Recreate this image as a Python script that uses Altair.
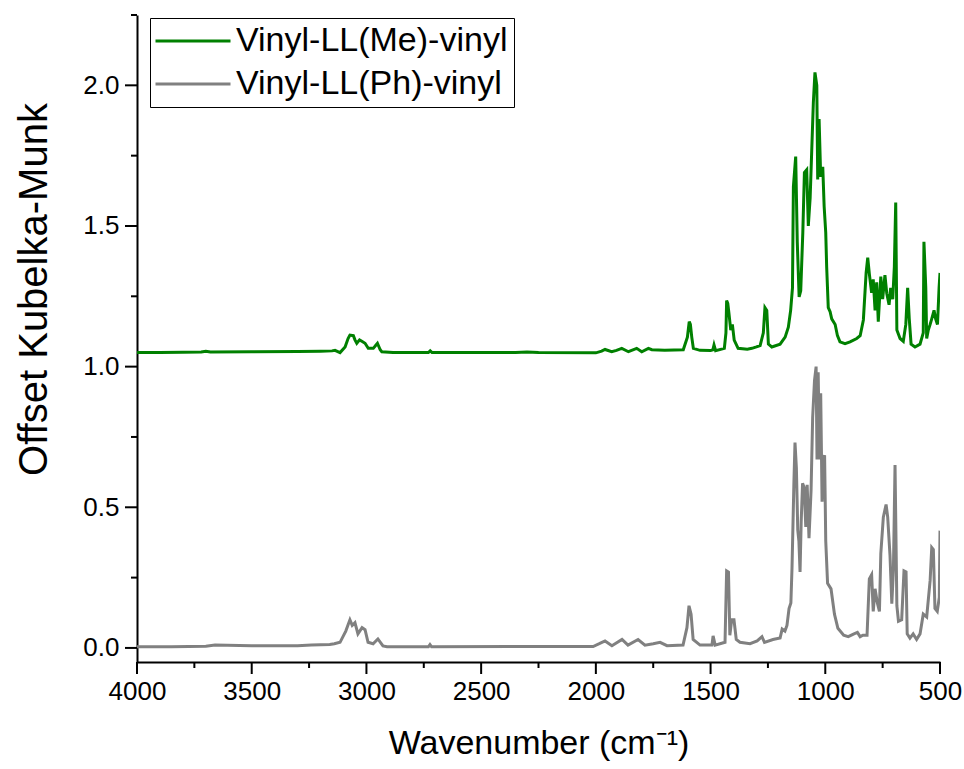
import altair as alt
import pandas as pd

series_names = ["Vinyl-LL(Me)-vinyl", "Vinyl-LL(Ph)-vinyl"]
series_colors = ["#008000", "#808080"]

me_wavenumber = [4000, 3900, 3800, 3720, 3700, 3680, 3500, 3300, 3200, 3150, 3137, 3115, 3093, 3080, 3072,
                 3057, 3050, 3042, 3030, 3020, 3006, 2992, 2970, 2960, 2952, 2940, 2933, 2884, 2730, 2722,
                 2714, 2350, 2300, 2250, 2000, 1975, 1960, 1931, 1910, 1887, 1858, 1822, 1800, 1771, 1756,
                 1700, 1619, 1601, 1593, 1588, 1582, 1575, 1546, 1500, 1490, 1485, 1478, 1440, 1433, 1430,
                 1425, 1420, 1412, 1405, 1397, 1380, 1340, 1320, 1300, 1284, 1270, 1263, 1255, 1248, 1233,
                 1197, 1175, 1161, 1151, 1143, 1139, 1129, 1122, 1114, 1107, 1098, 1091, 1081, 1074, 1066,
                 1059, 1052, 1045, 1037, 1033, 1027, 1020, 1011, 1005, 998, 994, 987, 979, 972, 957,
                 947, 936, 914, 892, 863, 848, 834, 822, 815, 808, 798, 791, 783, 776, 769,
                 758, 750, 740, 732, 722, 715, 706, 699, 693, 688, 674, 660, 649, 641, 634,
                 626, 609, 587, 573, 570, 562, 558, 551, 543, 536, 526, 519, 511, 504, 500]
me_value = [1.050, 1.050, 1.051, 1.052, 1.055, 1.052, 1.053, 1.054, 1.055, 1.056, 1.058, 1.050, 1.070, 1.100, 1.112,
            1.110, 1.095, 1.083, 1.095, 1.090, 1.083, 1.065, 1.065, 1.075, 1.083, 1.060, 1.053, 1.050, 1.050, 1.056,
            1.050, 1.050, 1.052, 1.050, 1.049, 1.055, 1.061, 1.053, 1.058, 1.065, 1.053, 1.065, 1.053, 1.065, 1.060,
            1.058, 1.060, 1.105, 1.160, 1.150, 1.105, 1.065, 1.058, 1.057, 1.060, 1.077, 1.057, 1.065, 1.120, 1.235,
            1.225, 1.190, 1.130, 1.150, 1.094, 1.065, 1.062, 1.065, 1.070, 1.075, 1.120, 1.210, 1.200, 1.080, 1.070,
            1.080, 1.105, 1.140, 1.200, 1.280, 1.640, 1.747, 1.440, 1.248, 1.270, 1.476, 1.690, 1.700, 1.500, 1.600,
            1.770, 1.940, 2.046, 2.000, 1.665, 1.880, 1.675, 1.710, 1.570, 1.476, 1.355, 1.210, 1.195, 1.170, 1.150,
            1.110, 1.088, 1.082, 1.088, 1.100, 1.110, 1.166, 1.333, 1.387, 1.330, 1.262, 1.310, 1.200, 1.300, 1.160,
            1.320, 1.240, 1.325, 1.260, 1.220, 1.280, 1.240, 1.355, 1.583, 1.130, 1.100, 1.090, 1.150, 1.280, 1.170,
            1.080, 1.070, 1.080, 1.120, 1.444, 1.280, 1.100, 1.130, 1.150, 1.170, 1.200, 1.170, 1.150, 1.280, 1.333]

ph_wavenumber = [4000, 3850, 3700, 3660, 3500, 3300, 3240, 3160, 3140, 3115, 3090, 3072, 3062, 3050, 3037,
                 3019, 3006, 2993, 2971, 2950, 2928, 2910, 2730, 2723, 2716, 2300, 2012, 1985, 1960, 1930,
                 1886, 1860, 1816, 1786, 1750, 1720, 1690, 1620, 1603, 1594, 1585, 1576, 1546, 1494, 1489,
                 1480, 1437, 1430, 1422, 1416, 1408, 1398, 1388, 1372, 1328, 1297, 1276, 1265, 1228, 1197,
                 1188, 1176, 1167, 1158, 1150, 1145, 1137, 1132, 1126, 1120, 1115, 1110, 1105, 1099, 1092,
                 1085, 1079, 1071, 1062, 1055, 1047, 1040, 1036, 1031, 1025, 1020, 1014, 1008, 1003, 998,
                 990, 975, 960, 945, 920, 900, 875, 860, 848, 836, 818, 808, 798, 791, 783,
                 773, 764, 758, 747, 735, 728, 718, 710, 703, 696, 688, 681, 667, 657, 648,
                 643, 631, 617, 602, 587, 573, 558, 543, 536, 529, 522, 512, 503, 500]
ph_value = [0.004, 0.004, 0.006, 0.010, 0.008, 0.008, 0.010, 0.012, 0.015, 0.020, 0.060, 0.100, 0.080, 0.090, 0.050,
            0.072, 0.065, 0.020, 0.015, 0.032, 0.007, 0.004, 0.004, 0.012, 0.004, 0.005, 0.005, 0.015, 0.025, 0.008,
            0.030, 0.010, 0.030, 0.010, 0.015, 0.020, 0.008, 0.010, 0.072, 0.150, 0.120, 0.030, 0.010, 0.010, 0.043,
            0.010, 0.020, 0.274, 0.270, 0.045, 0.100, 0.100, 0.030, 0.020, 0.015, 0.025, 0.040, 0.020, 0.030, 0.035,
            0.067, 0.060, 0.080, 0.140, 0.160, 0.285, 0.580, 0.730, 0.640, 0.420, 0.380, 0.270, 0.450, 0.585, 0.570,
            0.430, 0.580, 0.390, 0.560, 0.820, 0.950, 1.000, 0.670, 0.980, 0.670, 0.905, 0.520, 0.670, 0.685, 0.380,
            0.230, 0.210, 0.120, 0.070, 0.045, 0.040, 0.050, 0.055, 0.040, 0.045, 0.045, 0.245, 0.260, 0.130, 0.210,
            0.160, 0.130, 0.335, 0.465, 0.510, 0.465, 0.330, 0.157, 0.280, 0.650, 0.150, 0.095, 0.100, 0.274, 0.270,
            0.050, 0.035, 0.050, 0.030, 0.050, 0.120, 0.110, 0.240, 0.357, 0.350, 0.140, 0.130, 0.180, 0.417]

x_major = [500, 1000, 1500, 2000, 2500, 3000, 3500, 4000]
x_minor = [750, 1250, 1750, 2250, 2750, 3250, 3750]
y_major = [0.0, 0.5, 1.0, 1.5, 2.0]
y_minor = [0.25, 0.75, 1.25, 1.75, 2.25]

PLOT_W, PLOT_H = 803, 647
MAJOR_LEN, MINOR_LEN = 12, 6

df = pd.concat([
    pd.DataFrame({"wavenumber": me_wavenumber, "value": me_value, "series": series_names[0], "order": range(len(me_value))}),
    pd.DataFrame({"wavenumber": ph_wavenumber, "value": ph_value, "series": series_names[1], "order": range(len(ph_value))}),
])

FONT = "Liberation Sans"
x_scale = alt.Scale(domain=[500, 4000], reverse=True, nice=False, zero=False)
y_scale = alt.Scale(domain=[-0.05, 2.25], nice=False, zero=False)

common = dict(grid=False, ticks=False, domain=True, domainColor="#000000", domainWidth=2,
              labelFont=FONT, labelFontSize=26, labelColor="#000000", labelFlush=False,
              titleFont=FONT, titleColor="#000000", titleFontWeight="normal")

x_axis = alt.Axis(values=x_major, format="d", orient="bottom",
                  title="Wavenumber (cm⁻¹)", titleFontSize=34, titlePadding=22,
                  labelPadding=16, **common)
y_axis = alt.Axis(values=y_major, format=".1f", orient="left",
                  title="Offset Kubelka-Munk", titleFontSize=40,
                  titleX=-91, titleY=274, titleBaseline="alphabetic",
                  labelPadding=18, **common)

main = alt.Chart(df).mark_line(strokeWidth=3, clip=True).encode(
    x=alt.X("wavenumber:Q", scale=x_scale, axis=x_axis),
    y=alt.Y("value:Q", scale=y_scale, axis=y_axis),
    color=alt.Color("series:N",
                    scale=alt.Scale(domain=series_names, range=series_colors),
                    legend=alt.Legend(title=None, orient="none", legendX=13, legendY=3,
                                      symbolType="M-3.75,0H3.75", symbolSize=400, symbolStrokeWidth=3,
                                      symbolOffset=20, labelOffset=26, labelLimit=0,
                                      labelFont=FONT, labelFontSize=34, labelColor="black",
                                      strokeColor="black", fillColor="white", padding=6, rowPadding=9)),
    order="order:Q",
)


def x_ticks(values, length):
    return alt.Chart(pd.DataFrame({"wavenumber": values})).mark_rule(color="black", strokeWidth=2).encode(
        x=alt.X("wavenumber:Q", scale=x_scale, axis=x_axis),
        y=alt.value(PLOT_H),
        y2=alt.value(PLOT_H + length),
    )


def y_ticks(values, length):
    return alt.Chart(pd.DataFrame({"value": values})).mark_rule(color="black", strokeWidth=2).encode(
        y=alt.Y("value:Q", scale=y_scale, axis=y_axis),
        x=alt.value(0),
        x2=alt.value(-length),
    )


chart = alt.layer(
    main,
    x_ticks(x_major, MAJOR_LEN), x_ticks(x_minor, MINOR_LEN),
    y_ticks(y_major, MAJOR_LEN), y_ticks(y_minor, MINOR_LEN),
).properties(
    width=PLOT_W, height=PLOT_H,
    padding={"left": 137, "top": 15, "right": 24, "bottom": 107},
    autosize=alt.AutoSizeParams(type="none"),
    background="white",
).configure_view(strokeWidth=0)

chart.save("out.html", embed_options={"renderer": "svg", "actions": False})
